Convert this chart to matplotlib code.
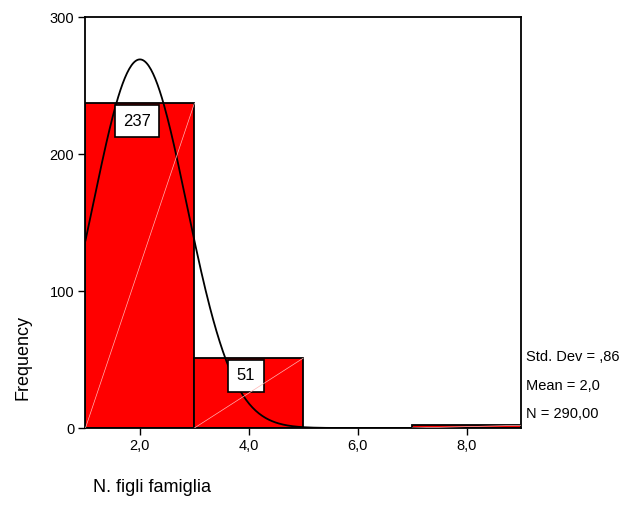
import numpy as np
import matplotlib
matplotlib.use("Agg")
import matplotlib.pyplot as plt
from matplotlib.ticker import FuncFormatter

plt.rcParams["font.family"] = ["Liberation Sans", "DejaVu Sans"]

# histogram bins (N. figli famiglia) and counts
bin_edges = [1, 3, 5, 7, 9]
counts = [237, 51, 0, 2]
labelled = [237, 51]

# summary statistics shown on the right
std_dev = 0.86
mean = 2.0
n_total = 290

fig = plt.figure(figsize=(6.35, 5.11), dpi=100)
ax = fig.add_axes([0.1346, 0.1624, 0.6859, 0.8043])

lefts = np.array(bin_edges[:-1])
widths = np.diff(bin_edges)
ax.bar(lefts, counts, width=widths, align="edge", color="#ff0000",
       edgecolor="black", linewidth=1.3, zorder=2)

# normal curve from the reported mean / std
xs = np.linspace(1, 9, 400)
bw = widths[0]
ys = n_total * bw / (std_dev * np.sqrt(2 * np.pi)) * np.exp(-0.5 * ((xs - mean) / std_dev) ** 2)
ax.plot(xs, ys, color="black", linewidth=1.3, zorder=4)

# value boxes
for left, w, c in zip(lefts, widths, counts):
    if c in labelled:
        ax.text(left + w / 2 - 0.05, c - 13, str(c), ha="center", va="center",
                fontsize=12, zorder=5,
                bbox=dict(boxstyle="square,pad=0.5", facecolor="white",
                          edgecolor="black", linewidth=1.2))

# thin diagonal artefacts across each bar
for left, w, c in zip(lefts, widths, counts):
    if c > 0:
        ax.plot([left, left + w], [0, c], color="#ffb4b4", linewidth=0.5, zorder=6)

ax.set_xlim(1, 9)
ax.set_ylim(0, 300)
ax.set_xticks([2, 4, 6, 8])
ax.set_yticks([0, 100, 200, 300])
ax.xaxis.set_major_formatter(FuncFormatter(lambda v, p: f"{v:.1f}".replace(".", ",")))
ax.tick_params(direction="out", length=5, width=1, labelsize=10.5, pad=3)
for s in ax.spines.values():
    s.set_linewidth(1.3)

fig.text(0.036, 0.218, "Frequency", rotation=90, ha="center", va="bottom", fontsize=13)
fig.text(0.146, 0.03, "N. figli famiglia", ha="left", va="bottom", fontsize=13)

stats = [f"Std. Dev = ,{int(round(std_dev * 100))}",
         f"Mean = {mean:.1f}".replace(".", ","),
         f"N = {n_total:.2f}".replace(".", ",")]
for i, s in enumerate(stats):
    fig.text(0.829, 0.301 - i * 0.056, s, ha="left", va="center", fontsize=10.5)

fig.savefig("out.png", dpi=100)
